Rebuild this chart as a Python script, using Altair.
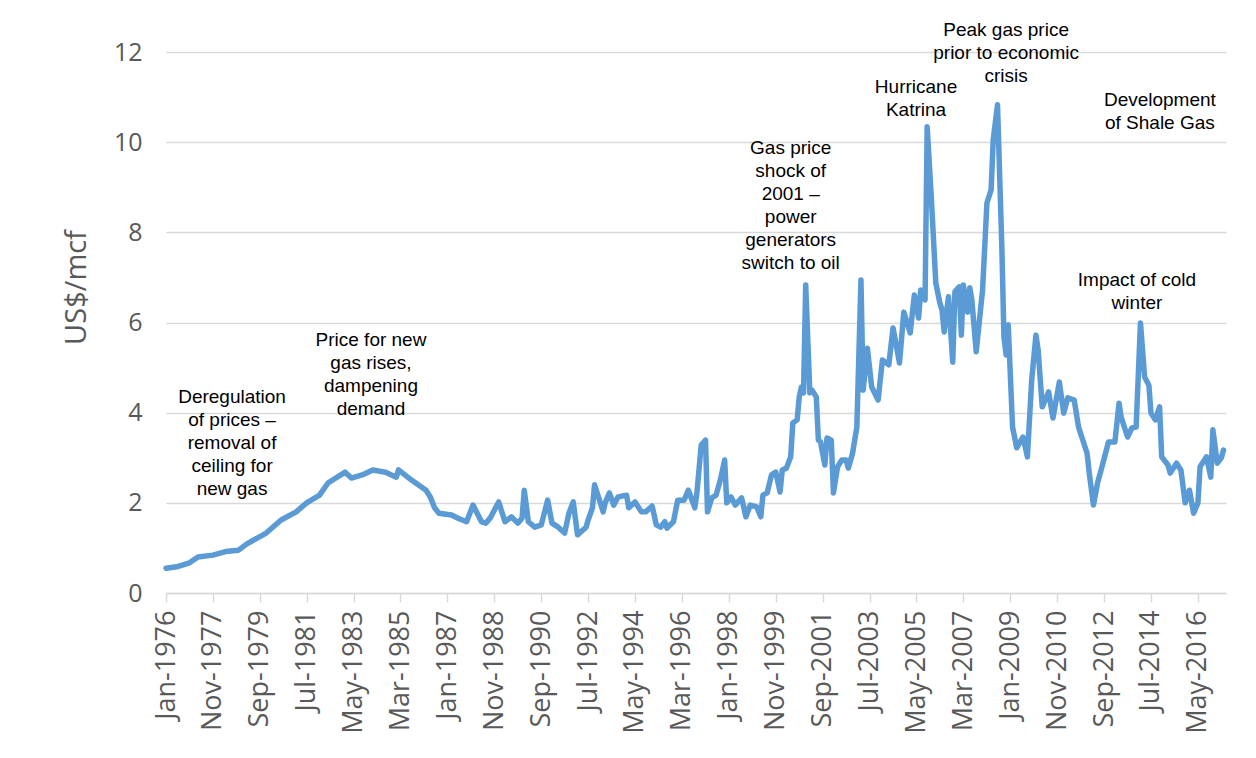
import altair as alt
import pandas as pd

# Monthly US natural gas price (US$/mcf), vertices
months = [
    "1976-01", "1976-06", "1976-12", "1977-04", "1977-11", "1978-05", "1978-11", "1979-03", "1979-12", "1980-07",
    "1981-02", "1981-07", "1982-01", "1982-05", "1983-01", "1983-04", "1983-09", "1984-02", "1984-08", "1985-01",
    "1985-02", "1985-08", "1986-03", "1986-05", "1986-07", "1986-09", "1987-03", "1987-06", "1987-10", "1988-01",
    "1988-05", "1988-07", "1988-09", "1989-01", "1989-04", "1989-07", "1989-10", "1989-12", "1990-01", "1990-03",
    "1990-06", "1990-09", "1990-12", "1991-02", "1991-05", "1991-08", "1991-10", "1991-12", "1992-02", "1992-06",
    "1992-07", "1992-09", "1992-10", "1993-02", "1993-03", "1993-05", "1993-07", "1993-09", "1994-01", "1994-02",
    "1994-05", "1994-08", "1994-10", "1995-01", "1995-03", "1995-05", "1995-07", "1995-08", "1995-11", "1996-01",
    "1996-04", "1996-06", "1996-09", "1996-10", "1996-12", "1997-02", "1997-03", "1997-05", "1997-07", "1997-09",
    "1997-11", "1997-12", "1998-02", "1998-04", "1998-07", "1998-09", "1998-11", "1999-02", "1999-04", "1999-05",
    "1999-07", "1999-09", "1999-11", "2000-01", "2000-02", "2000-04", "2000-06", "2000-07", "2000-09", "2000-10",
    "2000-11", "2000-12", "2001-01", "2001-03", "2001-04", "2001-06", "2001-07", "2001-08", "2001-10", "2001-11",
    "2002-01", "2002-02", "2002-04", "2002-06", "2002-08", "2002-09", "2002-11", "2003-01", "2003-03", "2003-04",
    "2003-06", "2003-08", "2003-11", "2004-01", "2004-04", "2004-06", "2004-09", "2004-11", "2005-02", "2005-04",
    "2005-06", "2005-07", "2005-09", "2005-10", "2005-12", "2006-02", "2006-04", "2006-05", "2006-06", "2006-08",
    "2006-10", "2006-11", "2007-01", "2007-02", "2007-03", "2007-05", "2007-06", "2007-07", "2007-09", "2007-12",
    "2008-02", "2008-04", "2008-05", "2008-07", "2008-09", "2008-10", "2008-11", "2008-12", "2009-02", "2009-04",
    "2009-07", "2009-09", "2009-11", "2010-01", "2010-02", "2010-04", "2010-07", "2010-09", "2010-12", "2011-02",
    "2011-04", "2011-07", "2011-09", "2012-01", "2012-02", "2012-04", "2012-06", "2012-08", "2012-11", "2013-02",
    "2013-04", "2013-05", "2013-08", "2013-10", "2013-12", "2014-02", "2014-04", "2014-06", "2014-07", "2014-09",
    "2014-11", "2014-12", "2015-03", "2015-04", "2015-07", "2015-09", "2015-11", "2016-01", "2016-03", "2016-05",
    "2016-06", "2016-09", "2016-11", "2016-12", "2017-02", "2017-04", "2017-05",
]
prices = [
    0.55, 0.58, 0.67, 0.80, 0.84, 0.92, 0.95, 1.09, 1.33, 1.62,
    1.80, 2.00, 2.17, 2.44, 2.68, 2.55, 2.62, 2.73, 2.68, 2.57,
    2.73, 2.51, 2.28, 2.13, 1.89, 1.77, 1.73, 1.66, 1.58, 1.95,
    1.58, 1.55, 1.66, 2.02, 1.58, 1.69, 1.55, 1.66, 2.28, 1.58,
    1.46, 1.51, 2.06, 1.55, 1.46, 1.33, 1.77, 2.02, 1.29, 1.46,
    1.62, 1.89, 2.40, 1.80, 2.00, 2.22, 1.95, 2.13, 2.17, 1.89,
    2.02, 1.80, 1.80, 1.93, 1.51, 1.46, 1.58, 1.44, 1.58, 2.06,
    2.06, 2.28, 1.89, 2.22, 3.28, 3.39, 1.80, 2.11, 2.17, 2.51,
    2.95, 2.00, 2.13, 1.95, 2.11, 1.69, 1.95, 1.91, 1.69, 2.17,
    2.22, 2.62, 2.68, 2.24, 2.73, 2.77, 3.02, 3.77, 3.84, 4.35,
    4.57, 4.44, 6.83, 4.44, 4.50, 4.35, 3.39, 3.35, 2.84, 3.44,
    3.39, 2.22, 2.80, 2.95, 2.95, 2.77, 3.10, 3.68, 6.94, 4.50,
    5.43, 4.57, 4.28, 5.17, 5.06, 5.88, 5.10, 6.23, 5.77, 6.61,
    6.10, 6.72, 6.50, 10.34, 8.72, 6.88, 6.43, 6.28, 5.79, 6.57,
    5.12, 6.68, 6.79, 5.72, 6.83, 6.23, 6.77, 6.50, 5.35, 6.72,
    8.65, 8.94, 10.05, 10.83, 7.68, 5.68, 5.28, 5.95, 3.68, 3.22,
    3.46, 3.02, 4.72, 5.72, 5.39, 4.13, 4.46, 3.88, 4.68, 3.99,
    4.33, 4.28, 3.68, 3.10, 2.66, 1.95, 2.46, 2.80, 3.35, 3.35,
    4.21, 3.90, 3.46, 3.66, 3.68, 5.99, 4.79, 4.61, 3.99, 3.84,
    4.13, 3.02, 2.84, 2.66, 2.88, 2.73, 2.00, 2.28, 1.77, 2.00,
    2.80, 3.02, 2.57, 3.62, 2.88, 3.00, 3.17,
]

# x-axis tick labels (every 22 months)
tick_years = [1976, 1977, 1979, 1981, 1983, 1985, 1987, 1988, 1990, 1992, 1994, 1996,
              1998, 1999, 2001, 2003, 2005, 2007, 2009, 2010, 2012, 2014, 2016]
tick_months = [1, 11, 9, 7, 5, 3, 1, 11, 9, 7, 5, 3, 1, 11, 9, 7, 5, 3, 1, 11, 9, 7, 5]

y_ticks = [0, 2, 4, 6, 8, 10, 12]

# annotations
ann_text = [
    "Deregulation\nof prices –\nremoval of\nceiling for\nnew gas",
    "Price for new\ngas rises,\ndampening\ndemand",
    "Gas price\nshock of\n2001 –\npower\ngenerators\nswitch to oil",
    "Hurricane\nKatrina",
    "Peak gas price\nprior to economic\ncrisis",
    "Development\nof Shale Gas",
    "Impact of cold\nwinter",
]
ann_date = ["1978-08-01", "1984-01-05", "2000-06-01", "2005-04-25", "2008-11-01", "2014-11-05", "2013-12-13"]
ann_value = [4.55, 5.81, 10.07, 11.42, 12.69, 11.14, 7.14]

df = pd.DataFrame({"date": [m + "-01" for m in months], "price": prices})
ann = pd.DataFrame({"date": ann_date, "value": ann_value, "text": ann_text})

axis_font = "Open Sans"
grey = "#595959"

x_scale = alt.Scale(type="utc", domain=[alt.DateTime(year=1976, month=1, date=1, utc=True),
                                       alt.DateTime(year=2017, month=6, date=6, utc=True)], nice=False)
y_scale = alt.Scale(domain=[0, 12], nice=False)

x_axis = alt.Axis(
    values=[alt.DateTime(year=y, month=m, date=1, utc=True) for y, m in zip(tick_years, tick_months)],
    labelExpr="utcFormat(datum.value, '%b-%Y')", labelAngle=-90, labelAlign="right", labelBaseline="middle",
    labelFont=axis_font, labelFontSize=27, labelColor=grey, labelPadding=8,
    domainColor="#d9d9d9", domainWidth=1.5, tickColor="#d9d9d9", tickWidth=1.5, tickSize=9,
    grid=False, title=None, labelOverlap=False, labelBound=False, labelFlush=False,
)
y_axis = alt.Axis(
    values=y_ticks, labelFont=axis_font, labelFontSize=25, labelColor=grey, labelPadding=24,
    domain=False, ticks=False, gridColor="#d9d9d9", gridWidth=1.5,
    title="US$/mcf", titleFont=axis_font, titleFontSize=29, titleFontWeight="normal",
    titleColor=grey, titlePadding=22, titleY=235,
)

line = alt.Chart(df).mark_line(color="#5b9bd5", strokeWidth=5.5, strokeJoin="round", strokeCap="round").encode(
    x=alt.X("date:T", scale=x_scale, axis=x_axis),
    y=alt.Y("price:Q", scale=y_scale, axis=y_axis),
)

labels = alt.Chart(ann).mark_text(
    font="Liberation Sans", fontSize=19, color="#000000", align="center", baseline="top",
    lineBreak="\n", lineHeight=23,
).encode(
    x=alt.X("date:T", scale=x_scale),
    y=alt.Y("value:Q", scale=y_scale),
    text="text:N",
)

chart = (line + labels).properties(
    width=1060, height=541,
    autosize=alt.AutoSizeParams(type="none"),
    padding={"left": 166, "top": 52, "right": 30, "bottom": 165},
    background="white",
).configure_view(stroke=None)

chart.save("out.html", embed_options={"renderer": "svg", "actions": False})
